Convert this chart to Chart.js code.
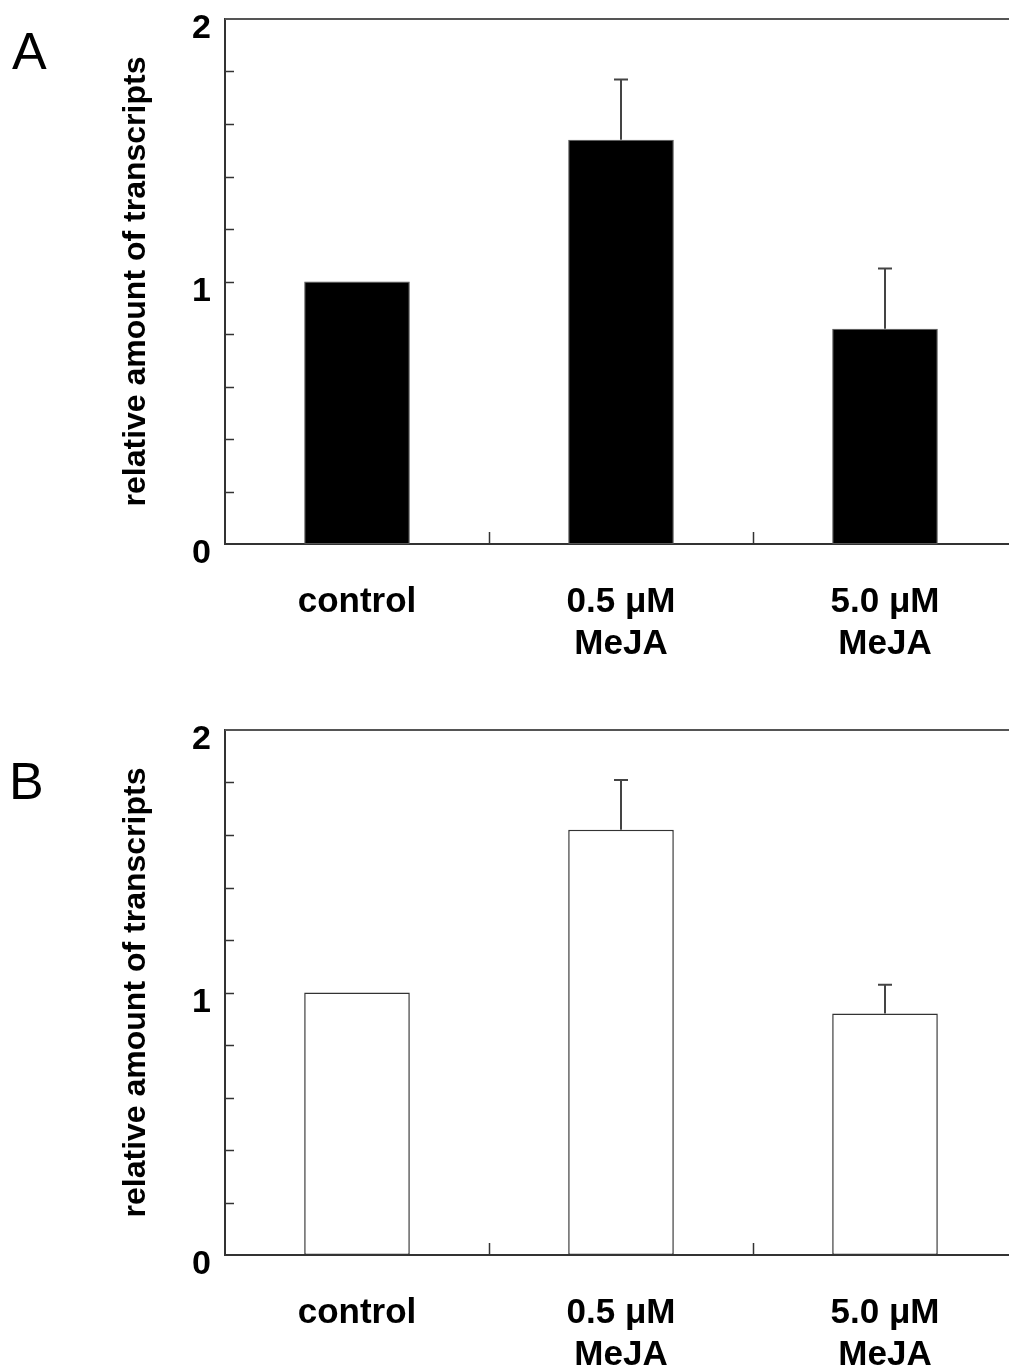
<!DOCTYPE html>
<html>
<head>
<meta charset="utf-8">
<script src="https://cdn.jsdelivr.net/npm/chart.js@4/dist/chart.umd.min.js"></script>
<style>
  html, body { margin: 0; padding: 0; background: #fff; overflow: hidden; width: 1009px; height: 1367px; }
  .panel { position: absolute; left: 0; width: 1040px; height: 700px; }
  .letter { position: absolute; font-family: "Liberation Sans", Arial, sans-serif; font-size: 52px; line-height: 52px; color: #000; }
</style>
</head>
<body>
<div class="letter" style="left:12px; top:25px;">A</div>
<div class="letter" style="left:9px; top:755px;">B</div>
<div class="panel" style="top:0px;"><canvas id="chartA" width="1040" height="700"></canvas></div>
<div class="panel" style="top:711px;"><canvas id="chartB" width="1040" height="700"></canvas></div>
<script>
// data
const categories = ['control', ['0.5 μM', 'MeJA'], ['5.0 μM', 'MeJA']];
const valuesA = [1.0, 1.54, 0.82];
const errorsA = [0, 0.23, 0.23];
const valuesB = [1.0, 1.62, 0.92];
const errorsB = [0, 0.19, 0.11];
const yMajorTicks = [0, 1, 2];
const yTitle = 'relative amount of transcripts';

Chart.defaults.font.family = '"Liberation Sans", Arial, sans-serif';
Chart.defaults.color = '#000';

// error bars (upper only), inner tick marks and top frame line
const decorations = {
  id: 'decorations',
  afterDatasetsDraw(chart) {
    const ctx = chart.ctx;
    const area = chart.chartArea;
    const xs = chart.scales.x, ys = chart.scales.y;
    const ds = chart.data.datasets[0];
    const meta = chart.getDatasetMeta(0);
    ctx.save();
    // error bars
    ctx.strokeStyle = '#444';
    ctx.lineWidth = 2;
    meta.data.forEach((bar, i) => {
      const err = ds.errors[i];
      if (!err) return;
      const yTop = ys.getPixelForValue(ds.data[i] + err);
      ctx.beginPath();
      ctx.moveTo(bar.x, bar.y);
      ctx.lineTo(bar.x, yTop);
      ctx.moveTo(bar.x - 7, yTop);
      ctx.lineTo(bar.x + 7, yTop);
      ctx.stroke();
    });
    // y ticks pointing inward
    ctx.strokeStyle = '#333';
    ctx.lineWidth = 1.5;
    ys.ticks.forEach(t => {
      if (t.value <= 0 || t.value >= 2) return;
      const y = Math.round(ys.getPixelForValue(t.value)) + 0.5;
      ctx.beginPath();
      ctx.moveTo(area.left, y);
      ctx.lineTo(area.left + 9, y);
      ctx.stroke();
    });
    // x ticks at category boundaries, pointing up
    for (let i = 0; i < xs.ticks.length - 1; i++) {
      const x = Math.round((xs.getPixelForTick(i) + xs.getPixelForTick(i + 1)) / 2) + 0.5;
      ctx.beginPath();
      ctx.moveTo(x, area.bottom);
      ctx.lineTo(x, area.bottom - 12);
      ctx.stroke();
    }
    // top frame line
    ctx.strokeStyle = '#555';
    ctx.lineWidth = 2;
    ctx.beginPath();
    ctx.moveTo(area.left, area.top);
    ctx.lineTo(area.right, area.top);
    ctx.stroke();
    ctx.restore();
  }
};

function makePanel(id, values, errors, fill, edge, edgeWidth) {
  return new Chart(document.getElementById(id), {
    type: 'bar',
    data: {
      labels: categories,
      datasets: [{
        data: values,
        errors: errors,
        backgroundColor: fill,
        borderColor: edge,
        borderWidth: edgeWidth,
        borderSkipped: false,
        barPercentage: 0.4,
        categoryPercentage: 1.0
      }]
    },
    options: {
      responsive: false,
      animation: false,
      devicePixelRatio: 1,
      layout: { padding: { top: 19, right: 23, left: 0, bottom: 0 } },
      plugins: { legend: { display: false }, tooltip: { enabled: false } },
      scales: {
        x: {
          grid: { display: false, drawTicks: false },
          border: { display: true, color: '#333', width: 2 },
          ticks: {
            autoSkip: false, maxRotation: 0, minRotation: 0, padding: 37,
            font: { size: 35, weight: 'bold', lineHeight: 1.2 }, color: '#000'
          },
          afterFit(scale) { scale.height = 156; scale.paddingLeft = 0; scale.paddingRight = 0; }
        },
        y: {
          min: 0, max: 2,
          grid: { display: false, drawTicks: false },
          border: { display: true, color: '#333', width: 2 },
          ticks: {
            stepSize: 0.2, autoSkip: false, padding: 14, labelOffset: 10,
            font: { size: 34, weight: 'bold' }, color: '#000',
            callback: v => yMajorTicks.includes(Math.round(v * 10) / 10) ? String(Math.round(v)) : ''
          },
          title: {
            display: true, text: yTitle, color: '#000',
            font: { size: 32, weight: 'bold' }, padding: { top: 117, bottom: 0 }
          },
          afterFit(scale) { scale.width = 225; scale.paddingTop = 0; scale.paddingBottom = 0; }
        }
      }
    },
    plugins: [decorations]
  });
}

makePanel('chartA', valuesA, errorsA, '#000', '#555', 1);
makePanel('chartB', valuesB, errorsB, '#fff', '#333', 1.5);
</script>
</body>
</html>
